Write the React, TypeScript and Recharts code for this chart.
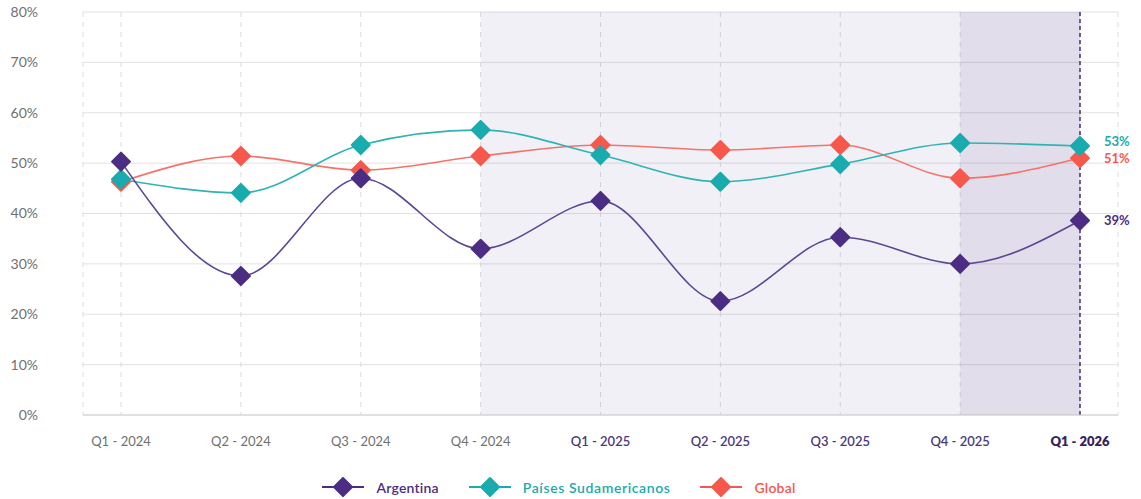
import {
  CartesianGrid,
  Legend,
  Line,
  LineChart,
  ReferenceArea,
  ReferenceLine,
  XAxis,
  YAxis,
} from 'recharts'

const quarters = [
  'Q1 - 2024',
  'Q2 - 2024',
  'Q3 - 2024',
  'Q4 - 2024',
  'Q1 - 2025',
  'Q2 - 2025',
  'Q3 - 2025',
  'Q4 - 2025',
  'Q1 - 2026',
]
const argentina = [50.3, 27.6, 47.0, 33.0, 42.5, 22.6, 35.3, 30.0, 38.6]
const paises = [46.8, 44.1, 53.6, 56.6, 51.6, 46.3, 49.8, 54.0, 53.4]
const globalSeries = [46.3, 51.4, 48.6, 51.4, 53.6, 52.6, 53.6, 47.0, 51.0]
const yTicks = [0, 10, 20, 30, 40, 50, 60, 70, 80]

const PURPLE = '#4b2d84'
const TEAL = '#19abae'
const CORAL = '#f6584c'
const FONT = 'Lato, "Open Sans", sans-serif'

const data = quarters.map((q, i) => ({
  quarter: q,
  argentina: argentina[i],
  paises: paises[i],
  global: globalSeries[i],
}))

const series = [
  { key: 'global', name: 'Global', color: CORAL, line: '#f4736a', dy: 0 },
  { key: 'paises', name: 'Países Sudamericanos', color: TEAL, line: '#2fb3b5', dy: -5 },
  { key: 'argentina', name: 'Argentina', color: PURPLE, line: '#5b4793', dy: 0 },
]
const legendOrder = ['argentina', 'paises', 'global']

function diamond(color: string) {
  return (props: any) => {
    const { cx, cy, index } = props
    if (cx == null || cy == null) return <g key={index} />
    const r = 9
    return (
      <path
        key={index}
        d={`M${cx},${cy - r} L${cx + r},${cy} L${cx},${cy + r} L${cx - r},${cy} Z`}
        fill={color}
        stroke={color}
        strokeWidth={2}
        strokeLinejoin="round"
      />
    )
  }
}

function endLabel(color: string, dy: number) {
  return (props: any) => {
    const { x, y, value, index } = props
    if (index !== quarters.length - 1) return null
    return (
      <text
        key={index}
        x={x + 24}
        y={y + dy}
        dy="0.35em"
        fill={color}
        fontSize={13}
        fontWeight={700}
        fontFamily={FONT}
      >
        {Math.round(value)}%
      </text>
    )
  }
}

function XTick(props: any) {
  const { x, y, payload, index } = props
  const future = index >= 4
  const last = index === quarters.length - 1
  return (
    <text
      x={x}
      y={y}
      dy="0.71em"
      textAnchor="middle"
      fontSize={13}
      fontFamily={FONT}
      fill={last ? '#35215f' : future ? '#4a3a7c' : '#707070'}
      fontWeight={last ? 800 : future ? 600 : 400}
    >
      {payload.value}
    </text>
  )
}

function LegendContent() {
  return (
    <div
      style={{
        display: 'flex',
        justifyContent: 'center',
        alignItems: 'center',
        gap: 30,
        paddingTop: 22,
        fontFamily: FONT,
        fontSize: 14,
        fontWeight: 600,
      }}
    >
      {legendOrder.map((k) => {
        const s = series.find((x) => x.key === k)!
        return (
          <div key={k} style={{ display: 'flex', alignItems: 'center', gap: 12, color: s.color }}>
            <svg width={42} height={20}>
              <line x1={0} y1={10} x2={42} y2={10} stroke={s.color} strokeWidth={2} />
              <path d="M21,1 L30,10 L21,19 L12,10 Z" fill={s.color} stroke={s.color} strokeLinejoin="round" strokeWidth={2} />
            </svg>
            <span style={{ letterSpacing: k === 'paises' ? 0.6 : 0.2 }}>{s.name}</span>
          </div>
        )
      })}
    </div>
  )
}

export default function App() {
  return (
    <div style={{ position: 'fixed', left: 0, top: 0, background: '#fff' }}>
      <LineChart width={1141} height={499} data={data} margin={{ top: 12, right: 23, left: 0, bottom: 0 }}>
        <ReferenceArea x1="Q4 - 2024" x2="Q4 - 2025" y1={0} y2={80} fill="#5a3f96" fillOpacity={0.08} stroke="none" />
        <ReferenceArea x1="Q4 - 2025" x2="Q1 - 2026" y1={0} y2={80} fill="#4b2d84" fillOpacity={0.16} stroke="none" />
        <CartesianGrid vertical={false} stroke="#e2e2e2" />
        <CartesianGrid horizontal={false} stroke="#dcdcdc" strokeDasharray="5 5" />
        <XAxis
          dataKey="quarter"
          padding={{ left: 38, right: 38 }}
          axisLine={{ stroke: '#cfcfcf' }}
          tickLine={false}
          tickSize={0}
          tickMargin={22}
          height={40}
          interval={0}
          tick={<XTick />}
        />
        <YAxis
          domain={[0, 80]}
          ticks={yTicks}
          width={83}
          axisLine={false}
          tickLine={false}
          tickSize={0}
          tickMargin={45}
          tickFormatter={(v) => `${v}%`}
          tick={{ fill: '#707070', fontSize: 14, fontFamily: FONT }}
        />
        <ReferenceLine x="Q1 - 2026" stroke={PURPLE} strokeDasharray="4 3" strokeWidth={1.5} />
        {series.map((s) => (
          <Line
            key={s.key}
            type="monotone"
            dataKey={s.key}
            name={s.name}
            stroke={s.line}
            strokeWidth={1.6}
            dot={diamond(s.color)}
            activeDot={false}
            label={endLabel(s.color, s.dy)}
            isAnimationActive={false}
          />
        ))}
        <Legend verticalAlign="bottom" height={44} content={<LegendContent />} />
      </LineChart>
    </div>
  )
}
